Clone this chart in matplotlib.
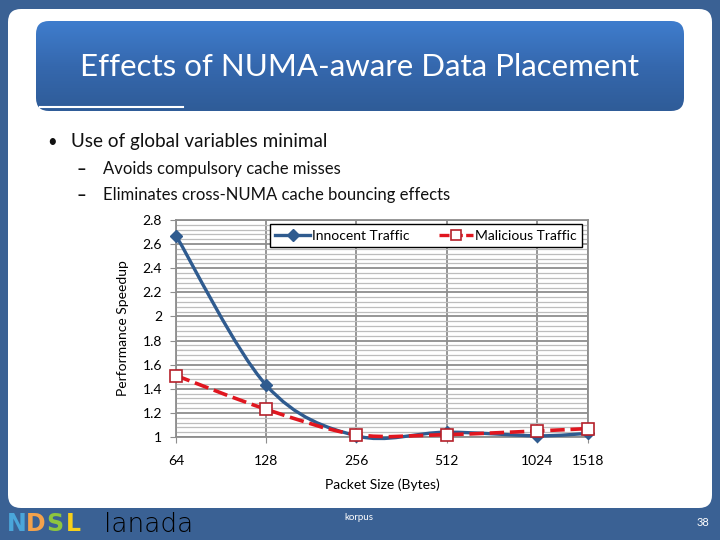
import numpy as np
import matplotlib.pyplot as plt
from matplotlib.patches import FancyBboxPatch, PathPatch
from matplotlib.path import Path
from matplotlib.lines import Line2D
from matplotlib.ticker import MultipleLocator, FixedLocator, NullFormatter

packet_sizes = [64, 128, 256, 512, 1024, 1518]
innocent = [2.67, 1.43, 1.01, 1.04, 1.01, 1.03]
malicious = [1.51, 1.23, 1.02, 1.02, 1.05, 1.07]
y_ticks = [1, 1.2, 1.4, 1.6, 1.8, 2, 2.2, 2.4, 2.6, 2.8]

title = "Effects of NUMA-aware Data Placement"
bullet = "Use of global variables minimal"
sub_bullets = ["Avoids compulsory cache misses",
               "Eliminates cross-NUMA cache bouncing effects"]

plt.rcParams['font.family'] = ['Lato', 'DejaVu Sans']

blue = "#2F5B8F"
red = "#E0161F"
slide_bg = "#3A6194"

fig = plt.figure(figsize=(7.2, 5.4), dpi=100)
fig.patch.set_facecolor(slide_bg)

# slide background drawn in pixel coords
bg = fig.add_axes([0, 0, 1, 1])
bg.set_xlim(0, 720)
bg.set_ylim(540, 0)
bg.axis("off")

panel = FancyBboxPatch((8, 9), 704, 499, boxstyle="round,pad=0,rounding_size=13",
                       fc="white", ec="none")
bg.add_patch(panel)

tbox = FancyBboxPatch((36, 21), 648, 90, boxstyle="round,pad=0,rounding_size=13",
                      fc="none", ec="none")
bg.add_patch(tbox)
grad = np.linspace(0, 1, 100).reshape(-1, 1)
im = bg.imshow(grad, cmap=plt.matplotlib.colors.LinearSegmentedColormap.from_list(
    "tb", ["#3F7DCD", "#3568AE", "#2F5C98"]), extent=(36, 684, 111, 21),
    aspect="auto", zorder=1)
im.set_clip_path(tbox)
bg.plot([40, 183], [107, 107], color="white", lw=1.5, zorder=2)
bg.text(360, 67, title, color="white", fontsize=22.5, ha="center", va="center", zorder=3)

bg.text(47, 142, "•", fontsize=12, ha="left", va="center", color="#111")
bg.text(71, 142, bullet, fontsize=13.6, ha="left", va="center", color="#111")
for i, s in enumerate(sub_bullets):
    yy = 169 + i * 26
    bg.text(77, yy, "–", fontsize=12, fontweight="bold", ha="left", va="center", color="#111")
    bg.text(103, yy, s, fontsize=12, ha="left", va="center", color="#111")

# footer logos
for ch, col, xx in zip("NDSL", ["#4AA6DA", "#F3A24C", "#8DC63F", "#F6CF1A"], [7, 26, 46, 66]):
    bg.text(xx, 524, ch, color=col, fontsize=17, fontweight="heavy", ha="left", va="center",
            family="DejaVu Sans")
bg.text(104, 524, "lanada", color="black", fontsize=19, ha="left", va="center",
        family="DejaVu Sans", fontweight="light")
bg.text(359, 518, "korpus", color="white", fontsize=7, ha="center", va="center")
bg.text(697, 523, "38", color="white", fontsize=8, ha="left", va="center")

# chart
ax = fig.add_axes([176 / 720, 1 - 437 / 540, 412 / 720, 217 / 540])
ax.set_facecolor("white")
ax.set_xscale("log", base=2)
ax.set_xlim(64, 1518)
ax.set_ylim(1, 2.8)


def smooth_path(xs, ys):
    u = np.log2(xs)
    p = np.column_stack([u, ys])
    n = len(p)
    verts = [p[0]]
    codes = [Path.MOVETO]
    for i in range(n - 1):
        p0 = p[max(i - 1, 0)]
        p1 = p[i]
        p2 = p[i + 1]
        p3 = p[min(i + 2, n - 1)]
        c1 = p1 + (p2 - p0) / 6
        c2 = p2 - (p3 - p1) / 6
        verts += [c1, c2, p2]
        codes += [Path.CURVE4] * 3
    verts = np.array(verts)
    verts[:, 0] = 2 ** verts[:, 0]
    return Path(verts, codes)


ax.add_patch(PathPatch(smooth_path(packet_sizes, innocent), fill=False,
                       ec=blue, lw=2.4, zorder=3, clip_on=False))
ax.add_patch(PathPatch(smooth_path(packet_sizes, malicious), fill=False,
                       ec=red, lw=2.6, ls=(0, (4, 1.6)), zorder=4, clip_on=False))
ax.plot(packet_sizes, innocent, ls="none", marker="D", ms=6.5, color=blue,
        zorder=5, clip_on=False)
ax.plot(packet_sizes, malicious, ls="none", marker="s", ms=8, mfc="white",
        mec="#B5202A", mew=1.2, zorder=6, clip_on=False)

ax.xaxis.set_major_locator(FixedLocator(packet_sizes))
ax.xaxis.set_minor_locator(FixedLocator([]))
ax.xaxis.set_minor_formatter(NullFormatter())
ax.set_xticklabels([str(v) for v in packet_sizes])
ax.set_yticks(y_ticks)
ax.set_yticklabels(["{:g}".format(v) for v in y_ticks])
ax.yaxis.set_minor_locator(MultipleLocator(0.04))
ax.grid(True, which="major", color="#8E8E8E", lw=1.3)
ax.grid(True, which="minor", axis="y", color="#BDBDBD", lw=0.9)
ax.set_axisbelow(True)
for sp in ax.spines.values():
    sp.set_color("#8E8E8E")
    sp.set_linewidth(1.3)
ax.tick_params(which="major", length=4, color="#8E8E8E", labelsize=10, pad=6)
ax.tick_params(which="minor", length=0)
ax.tick_params(axis="x", pad=9)
ax.set_xlabel("Packet Size (Bytes)", fontsize=10, labelpad=8)
ax.set_ylabel("Performance Speedup", fontsize=10, labelpad=10)

handles = [Line2D([], [], color=blue, lw=2.4, marker="D", ms=6),
           Line2D([], [], color=red, lw=2.4, ls=(0, (3, 1)), marker="s", ms=7,
                  mfc="white", mec="#B5202A", mew=1.2)]
leg = ax.legend(handles, ["Innocent Traffic", "Malicious Traffic"], ncol=2,
                loc="center", bbox_to_anchor=(0.228, 0.871, 0.757, 0.115),
                mode="expand", borderaxespad=0, fancybox=False, framealpha=1,
                edgecolor="black", fontsize=10, handlelength=2.5,
                handletextpad=0.1, columnspacing=1.5)
leg.get_frame().set_linewidth(1.0)
leg.set_zorder(10)

fig.savefig("out.png", dpi=100, facecolor=fig.get_facecolor())
